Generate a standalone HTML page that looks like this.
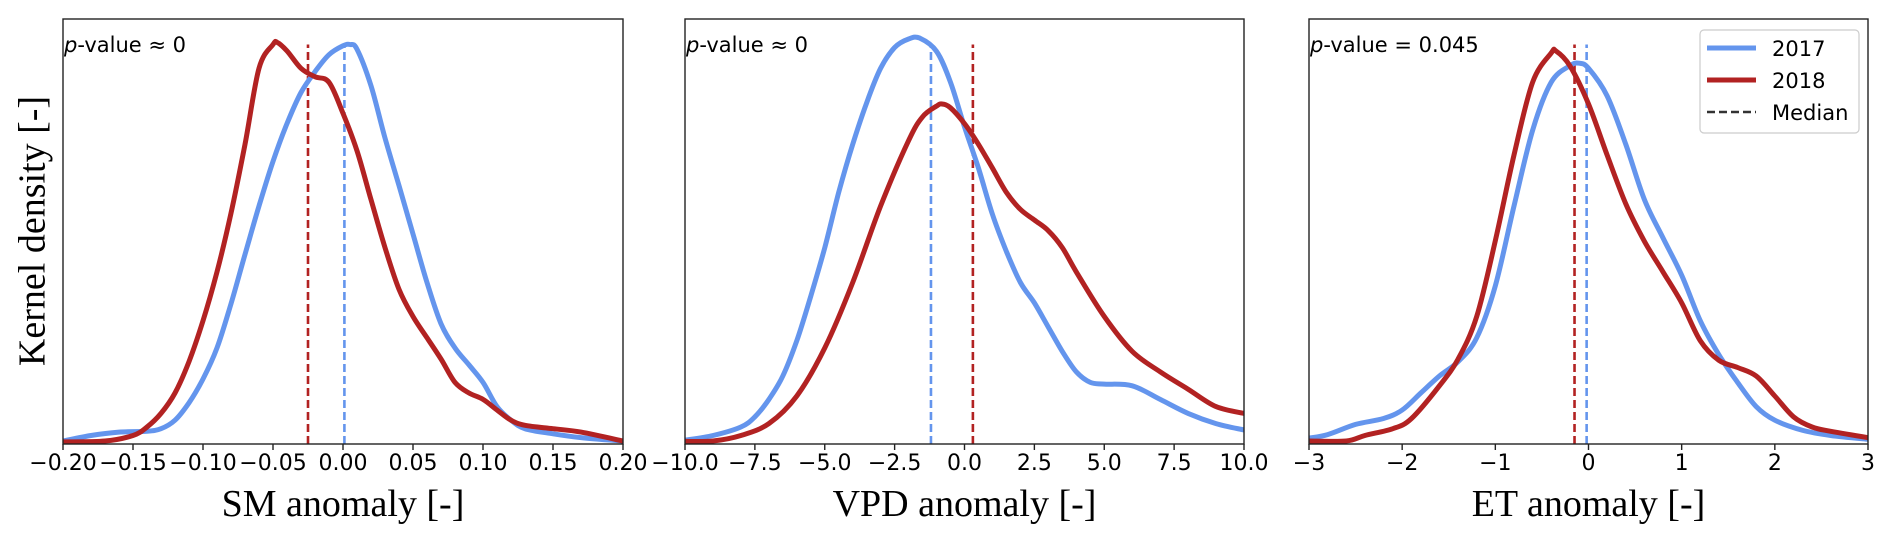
<!DOCTYPE html>
<html><head><meta charset="utf-8"><style>
html,body{margin:0;padding:0;background:#fff;}
svg{display:block;}
</style></head><body>
<svg id="chart" width="1892" height="542" viewBox="0 0 1892 542" xmlns="http://www.w3.org/2000/svg">
<text x="36" y="231" transform="rotate(-90 36 231)" text-anchor="middle" dominant-baseline="middle" font-family="Liberation Serif, serif" font-size="38" fill="#000">Kernel density [-]</text>
</svg>
<script>
// SM panel data
const smTicks = [-0.2,-0.15,-0.1,-0.05,0,0.05,0.1,0.15,0.2];
const smTickLabels = ["\u22120.20","\u22120.15","\u22120.10","\u22120.05","0.00","0.05","0.10","0.15","0.20"];
const smX17 = [-0.2,-0.18,-0.16,-0.14,-0.13,-0.12,-0.11,-0.1,-0.09,-0.08,-0.07,-0.06,-0.05,-0.04,-0.03,-0.02,-0.01,0,0.005,0.01,0.02,0.03,0.04,0.05,0.06,0.07,0.08,0.09,0.1,0.11,0.12,0.13,0.15,0.17,0.2];
const smY17 = [0.007,0.02,0.028,0.03,0.036,0.056,0.097,0.153,0.226,0.33,0.446,0.56,0.665,0.754,0.827,0.876,0.916,0.937,0.94,0.929,0.843,0.72,0.608,0.494,0.38,0.283,0.226,0.186,0.145,0.088,0.056,0.036,0.024,0.015,0.007];
const smX18 = [-0.2,-0.17,-0.15,-0.14,-0.13,-0.12,-0.11,-0.1,-0.09,-0.08,-0.07,-0.06,-0.05,-0.047,-0.04,-0.03,-0.02,-0.01,0,0.01,0.02,0.03,0.04,0.05,0.06,0.07,0.08,0.09,0.1,0.11,0.12,0.13,0.15,0.17,0.2];
const smY18 = [0.005,0.007,0.02,0.04,0.072,0.12,0.194,0.29,0.405,0.543,0.705,0.884,0.94,0.945,0.925,0.884,0.864,0.851,0.778,0.69,0.575,0.462,0.364,0.3,0.25,0.2,0.145,0.12,0.105,0.08,0.056,0.044,0.036,0.028,0.007];
const smMedians = [0.001,-0.025];
// VPD panel data
const vpdTicks = [-10,-7.5,-5,-2.5,0,2.5,5,7.5,10];
const vpdTickLabels = ["\u221210.0","\u22127.5","\u22125.0","\u22122.5","0.0","2.5","5.0","7.5","10.0"];
const vpdX17 = [-10,-9,-8,-7.5,-7,-6.5,-6,-5.5,-5,-4.5,-4,-3.5,-3,-2.5,-2,-1.6,-1,-0.5,0,0.5,1,1.5,2,2.5,3,3.5,4,4.5,5,6,7,8,9,10];
const vpdY17 = [0.009,0.02,0.04,0.064,0.105,0.16,0.243,0.348,0.462,0.592,0.705,0.803,0.884,0.933,0.953,0.955,0.924,0.851,0.746,0.649,0.54,0.453,0.38,0.332,0.275,0.218,0.17,0.145,0.141,0.137,0.105,0.072,0.048,0.033];
const vpdX18 = [-10,-9,-8,-7,-6,-5,-4,-3,-2,-1.5,-1,-0.8,-0.5,0,0.5,1,1.5,2,2.5,3,3.5,4,5,6,7,8,9,10];
const vpdY18 = [0.006,0.007,0.02,0.048,0.113,0.226,0.38,0.56,0.714,0.77,0.795,0.8,0.791,0.754,0.705,0.649,0.592,0.552,0.527,0.502,0.462,0.405,0.3,0.218,0.17,0.129,0.088,0.072];
const vpdMedians = [-1.2,0.3];
// ET panel data
const etTicks = [-3,-2,-1,0,1,2,3];
const etTickLabels = ["\u22123","\u22122","\u22121","0","1","2","3"];
const etX17 = [-3,-2.8,-2.5,-2.2,-2,-1.8,-1.6,-1.4,-1.2,-1,-0.8,-0.6,-0.4,-0.2,-0.1,0,0.2,0.4,0.6,0.8,1,1.2,1.4,1.6,1.8,2,2.3,2.6,3];
const etY17 = [0.014,0.022,0.046,0.06,0.08,0.12,0.16,0.194,0.25,0.372,0.56,0.738,0.851,0.89,0.896,0.884,0.819,0.705,0.575,0.485,0.397,0.29,0.21,0.145,0.088,0.056,0.032,0.02,0.011];
const etX18 = [-3,-2.6,-2.4,-2.1,-1.9,-1.6,-1.4,-1.2,-1,-0.8,-0.6,-0.4,-0.35,-0.2,0,0.2,0.4,0.6,0.8,1,1.2,1.4,1.6,1.8,2,2.2,2.4,2.6,3];
const etY18 = [0.007,0.007,0.02,0.036,0.06,0.137,0.2,0.3,0.478,0.68,0.851,0.92,0.925,0.89,0.8,0.68,0.565,0.477,0.405,0.332,0.243,0.197,0.18,0.16,0.113,0.064,0.04,0.03,0.015];
const etMedians = [-0.02,-0.15];
const pvalues = ["\u2248 0","\u2248 0","= 0.045"];
const xTitles = ["SM anomaly [-]","VPD anomaly [-]","ET anomaly [-]"];

const NS="http://www.w3.org/2000/svg";
const svg=document.getElementById('chart');
const BLUE="#6495ED", RED="#B22222";
const TOP=19, BOT=444, MEDTOP=0.94;
function mk(tag,attrs,parent){const e=document.createElementNS(NS,tag);for(const k in attrs)e.setAttribute(k,attrs[k]);(parent||svg).appendChild(e);return e;}
function smooth(pts){let d="M"+pts[0][0].toFixed(1)+","+pts[0][1].toFixed(1);
 for(let i=0;i<pts.length-1;i++){const p0=pts[Math.max(0,i-1)],p1=pts[i],p2=pts[i+1],p3=pts[Math.min(pts.length-1,i+2)];
  const c1=[p1[0]+(p2[0]-p0[0])/6,p1[1]+(p2[1]-p0[1])/6],c2=[p2[0]-(p3[0]-p1[0])/6,p2[1]-(p3[1]-p1[1])/6];
  d+=" C"+c1[0].toFixed(1)+","+c1[1].toFixed(1)+" "+c2[0].toFixed(1)+","+c2[1].toFixed(1)+" "+p2[0].toFixed(1)+","+p2[1].toFixed(1);}
 return d;}
const panels=[
 {L:63,R:623,xmin:-0.2,xmax:0.2,ticks:smTicks,labels:smTickLabels,x17:smX17,y17:smY17,x18:smX18,y18:smY18,med:smMedians,key:'sm'},
 {L:685,R:1244,xmin:-10,xmax:10,ticks:vpdTicks,labels:vpdTickLabels,x17:vpdX17,y17:vpdY17,x18:vpdX18,y18:vpdY18,med:vpdMedians,key:'vpd'},
 {L:1309,R:1868,xmin:-3,xmax:3,ticks:etTicks,labels:etTickLabels,x17:etX17,y17:etY17,x18:etX18,y18:etY18,med:etMedians,key:'et'}];
panels.forEach((p,pi)=>{
 const sx=v=>p.L+(v-p.xmin)/(p.xmax-p.xmin)*(p.R-p.L);
 const sy=v=>BOT-v*(BOT-TOP);
 const g=mk('g',{});
 
 
 const clipId='clip'+pi;
 const cp=mk('clipPath',{id:clipId},g);mk('rect',{x:p.L,y:TOP,width:p.R-p.L,height:BOT-TOP},cp);
 const plot=mk('g',{'clip-path':'url(#'+clipId+')'},g);
 [[p.med[0],BLUE,'median-2017'],[p.med[1],RED,'median-2018']].forEach(m=>{
  const l=mk('line',{x1:sx(m[0]),x2:sx(m[0]),y1:BOT,y2:sy(MEDTOP),stroke:m[1],'stroke-width':2.6,'stroke-dasharray':'8,4'},plot);
  
  
 });
 [[p.x17,p.y17,BLUE,'kde-2017'],[p.x18,p.y18,RED,'kde-2018']].forEach(c=>{
  const pts=c[0].map((x,i)=>[sx(x),sy(c[1][i])]);
  const path=mk('path',{d:smooth(pts),fill:'none',stroke:c[2],'stroke-width':5,'stroke-linejoin':'round'},plot);
  
  
 });
 const frame=mk('rect',{x:p.L,y:TOP,width:p.R-p.L,height:BOT-TOP,fill:'none',stroke:'#222','stroke-width':1.4},g);
 
 
 p.ticks.forEach((t,i)=>{
  mk('line',{x1:sx(t),x2:sx(t),y1:BOT,y2:BOT+6,stroke:'#222','stroke-width':1.4},g);
  const tl=mk('text',{x:sx(t),y:470,'text-anchor':'middle','font-family':'DejaVu Sans, sans-serif','font-size':22,fill:'#000'},g);
  tl.textContent=p.labels[i];
  
  
 });
 const xt=mk('text',{x:(p.L+p.R)/2,y:516,'text-anchor':'middle','font-family':'Liberation Serif, serif','font-size':38,fill:'#000'},g);
 xt.textContent=xTitles[pi];
 
 
 const pv=mk('text',{x:p.L+1,y:52,'font-family':'DejaVu Sans, sans-serif','font-size':21,fill:'#000'},g);
 pv.innerHTML='<tspan font-style="italic">p</tspan>-value '+pvalues[pi];
 
 
});
const lg=mk('g',{});


mk('rect',{x:1700,y:30,width:159,height:103,rx:4,fill:'#fff','fill-opacity':0.85,stroke:'#ccc','stroke-width':1.2},lg);
[['2017',BLUE,48,'none'],['2018',RED,80,'none'],['Median','#333',112,'8,4']].forEach(e=>{
 const it=mk('g',{},lg);
 
 
 mk('line',{x1:1707,x2:1756,y1:e[2],y2:e[2],stroke:e[1],'stroke-width':e[3]==='none'?5:2.6,'stroke-dasharray':e[3]},it);
 const t=mk('text',{x:1772,y:e[2]+8,'font-family':'DejaVu Sans, sans-serif','font-size':21,fill:'#000'},it);
 t.textContent=e[0];
});
</script>
</body></html>
